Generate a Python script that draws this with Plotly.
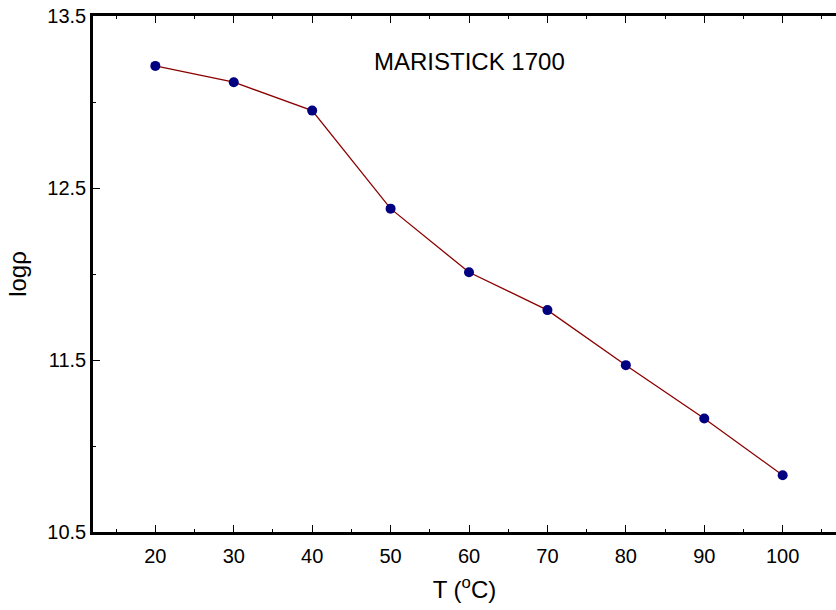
import plotly.graph_objects as go

temps = [20, 30, 40, 50, 60, 70, 80, 90, 100]
logrho = [13.21, 13.115, 12.95, 12.38, 12.01, 11.79, 11.47, 11.16, 10.83]
x_ticks = [20, 30, 40, 50, 60, 70, 80, 90, 100]
y_ticks = [10.5, 11.5, 12.5, 13.5]
y_tick_labels = ["10.5", "11.5", "12.5", "13.5"]

fig = go.Figure()
fig.add_trace(go.Scatter(
    x=temps, y=logrho, mode="lines+markers",
    line=dict(color="#8B0000", width=1.3),
    marker=dict(color="#000080", size=10),
    showlegend=False,
))

fig.update_layout(
    width=836, height=610,
    margin=dict(l=93, r=0, t=16, b=78),
    plot_bgcolor="white", paper_bgcolor="white",
    font=dict(family="Arial, Liberation Sans, sans-serif", size=20, color="black"),
    xaxis=dict(
        range=[12.05, 106.8], tickmode="array", tickvals=x_ticks,
        ticks="inside", ticklen=7, tickwidth=1.3, tickcolor="black",
        showline=True, linecolor="black", linewidth=2.5, mirror="ticks",
        showgrid=False, zeroline=False,
        minor=dict(dtick=5, tick0=0, ticks="inside", ticklen=3, tickwidth=1, tickcolor="black", showgrid=False),
        title=dict(text="T (<sup>o</sup>C)", font=dict(size=24), standoff=16),
        tickfont=dict(size=20), ticklabelstandoff=4,
    ),
    yaxis=dict(
        range=[10.5, 13.5], tickmode="array", tickvals=y_ticks, ticktext=y_tick_labels,
        ticks="inside", ticklen=7, tickwidth=1.3, tickcolor="black",
        showline=True, linecolor="black", linewidth=2.5, mirror=False,
        showgrid=False, zeroline=False,
        minor=dict(dtick=0.5, tick0=0, ticks="inside", ticklen=3, tickwidth=1, tickcolor="black", showgrid=False),
        title=dict(text="logρ", font=dict(size=24), standoff=14),
        tickfont=dict(size=20),
    ),
    annotations=[dict(
        x=60, xref="x", y=13.235, yref="y", text="MARISTICK 1700",
        showarrow=False, font=dict(size=24), xanchor="center", yanchor="middle",
    )],
)

fig.write_html("out.html", config={"displayModeBar": False},
               post_script="document.body.style.margin='0';document.body.style.overflow='hidden';")
